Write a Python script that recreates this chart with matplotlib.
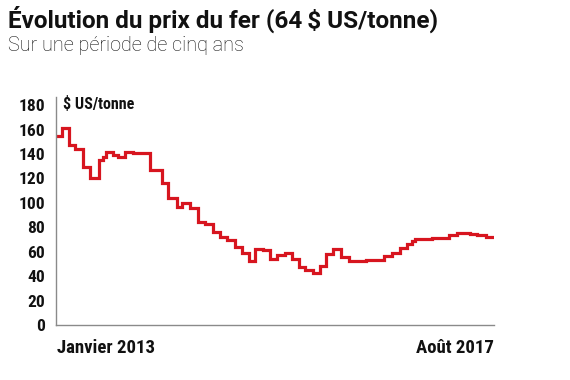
import matplotlib
matplotlib.use("Agg")
import matplotlib.pyplot as plt
from matplotlib import font_manager
import pandas as pd

# prix du fer, $ US/tonne (lecture du graphique, fonction en escalier)
step_dates = [
    "2013-01-01", "2013-01-24", "2013-02-20", "2013-03-15", "2013-04-15",
    "2013-05-12", "2013-06-18", "2013-07-02", "2013-07-13", "2013-08-09",
    "2013-08-29", "2013-09-25", "2013-10-26", "2013-12-30", "2014-02-15",
    "2014-03-10", "2014-04-16", "2014-05-03", "2014-06-03", "2014-07-04",
    "2014-07-31", "2014-09-02", "2014-09-27", "2014-10-24", "2014-11-24",
    "2014-12-21", "2015-01-19", "2015-02-11", "2015-03-12", "2015-04-08",
    "2015-05-07", "2015-06-05", "2015-07-02", "2015-07-31", "2015-08-23",
    "2015-09-21", "2015-10-20", "2015-11-12", "2015-12-09", "2016-01-07",
    "2016-02-07", "2016-04-13", "2016-06-24", "2016-07-23", "2016-08-23",
    "2016-09-19", "2016-10-08", "2016-10-20", "2016-12-26", "2017-03-02",
    "2017-03-31", "2017-05-21", "2017-06-19", "2017-07-24", "2017-08-15",
]
step_prices = [
    155, 161, 147.3, 144, 129,
    120.5, 134.8, 137.7, 141.8, 139.1,
    137.5, 141.8, 140.5, 126.6, 116,
    103.7, 96.3, 99.6, 95.5, 84.5,
    82.4, 75.9, 72.3, 69.6, 64.1,
    58.7, 52.4, 62, 61.4, 53.8,
    57.3, 59.2, 53.8, 47.7, 45,
    42.8, 48.3, 58.1, 62, 55.9,
    52.6, 53.6, 56.5, 59.2, 62.8,
    66, 68.5, 70.1, 70.8, 73.6,
    75.5, 74.5, 73.6, 72.3, 72.3,
]
y_ticks = [0, 20, 40, 60, 80, 100, 120, 140, 160, 180]

title = "Évolution du prix du fer (64\u2009$ US/tonne)"
subtitle = "Sur une période de cinq ans"
unit_label = "$ US/tonne"
start_label = "Janvier 2013"
end_label = "Août 2017"

RED = "#d7151f"
GREY = "#8a8a8a"

names = {f.name for f in font_manager.fontManager.ttflist}
cond = None
for fam in ["Roboto Condensed", "Liberation Sans Narrow", "DejaVu Sans"]:
    if fam in names:
        cond = fam
        break
cond_kw = dict(family=[cond, "DejaVu Sans"], weight="bold", stretch="condensed")
head = ["Roboto", "DejaVu Sans"]

dates = pd.to_datetime(step_dates)

fig = plt.figure(figsize=(5.7, 3.8), dpi=100)
W, H = 570, 380
ax = fig.add_axes([56 / W, 1 - 325 / H, (494 - 56) / W, (325 - 97) / H])

ax.step(dates, step_prices, where="post", color=RED, lw=2.3, solid_joinstyle="miter")

ax.set_ylim(0, 186.6)
ax.set_xlim(dates[0], dates[-1] + pd.Timedelta(days=8))
ax.set_yticks(y_ticks)
ax.set_yticklabels([str(v) for v in y_ticks], **cond_kw, fontsize=12.5)
ax.set_xticks([])
ax.tick_params(axis="y", length=0, pad=8, colors="#111111")
for s in ["top", "right"]:
    ax.spines[s].set_visible(False)
for s in ["left", "bottom"]:
    ax.spines[s].set_color(GREY)
    ax.spines[s].set_linewidth(1.0)

fig.text(8 / W, 1 - 6 / H, title, ha="left", va="top", family=head,
         weight="bold", fontsize=17.5, color="#111111")
fig.text(8 / W, 1 - 36 / H, subtitle, ha="left", va="top", family=head,
         weight="light", fontsize=14.3, color="#111111")
fig.text(63 / W, 1 - 104 / H, unit_label, ha="left", va="center", **cond_kw,
         fontsize=11.5, color="#111111")
fig.text(57 / W, 1 - 348 / H, start_label, ha="left", va="center", **cond_kw,
         fontsize=13.5, color="#111111")
fig.text(494 / W, 1 - 348 / H, end_label, ha="right", va="center", **cond_kw,
         fontsize=13.5, color="#111111")

fig.savefig("out.png", dpi=100, facecolor="white")
